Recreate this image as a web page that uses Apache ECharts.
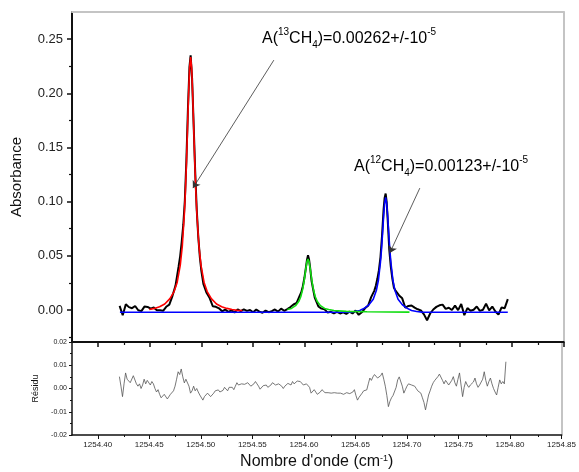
<!DOCTYPE html>
<html>
<head>
<meta charset="utf-8">
<script src="https://cdn.jsdelivr.net/npm/echarts@6/dist/echarts.min.js"></script>
<style>
  html, body { margin: 0; padding: 0; background: #fff; }
  #chart { width: 579px; height: 472px; }
</style>
</head>
<body>
<div id="chart"></div>
<script>
// axes
const xMin = 1254.375, xMax = 1254.85;
const xMajor = [1254.40, 1254.45, 1254.50, 1254.55, 1254.60, 1254.65, 1254.70, 1254.75, 1254.80, 1254.85];
const xMinor = [1254.425, 1254.475, 1254.525, 1254.575, 1254.625, 1254.675, 1254.725, 1254.775, 1254.825];
const absMajor = [0, 0.05, 0.10, 0.15, 0.20, 0.25];
const absMinor = [-0.025, 0.025, 0.075, 0.125, 0.175, 0.225];
const resMajor = [-0.02, -0.01, 0, 0.01, 0.02];
const resMinor = [-0.015, -0.005, 0.005, 0.015];

// spectre mesuré (nombre d'onde, absorbance)
const spectre = [
  [1254.421, 0.0038], [1254.424, -0.0048], [1254.427, 0.0054], [1254.430, 0.0027], [1254.433, 0.0017],
  [1254.436, 0.0037], [1254.439, -0.0002], [1254.442, -0.0010], [1254.445, 0.0032], [1254.448, 0.0029],
  [1254.451, 0.0013], [1254.454, 0.0024], [1254.457, -0.0003], [1254.460, -0.0003], [1254.463, -0.0007],
  [1254.466, 0.0030], [1254.469, 0.0050], [1254.472, 0.0129], [1254.475, 0.0225], [1254.478, 0.0402],
  [1254.4795, 0.0498], [1254.481, 0.0630], [1254.4825, 0.0785], [1254.484, 0.1008], [1254.4855, 0.1379],
  [1254.487, 0.1855], [1254.4885, 0.2247], [1254.4896, 0.2350], [1254.491, 0.2140], [1254.4925, 0.1714],
  [1254.494, 0.1278], [1254.4955, 0.0925], [1254.497, 0.0674], [1254.4985, 0.0489], [1254.500, 0.0360],
  [1254.502, 0.0238], [1254.505, 0.0159], [1254.508, 0.0110], [1254.511, 0.0035], [1254.514, 0.0030],
  [1254.517, 0.0016], [1254.520, -0.0012], [1254.523, 0.0005], [1254.526, -0.0017], [1254.529, -0.0004],
  [1254.532, -0.0022], [1254.535, 0.0006], [1254.538, -0.0011], [1254.541, 0.0006], [1254.544, -0.0008],
  [1254.547, 0.0000], [1254.550, -0.0020], [1254.553, 0.0005], [1254.556, -0.0015], [1254.559, -0.0025],
  [1254.562, -0.0005], [1254.565, -0.0020], [1254.568, -0.0010], [1254.571, 0.0005], [1254.574, -0.0015],
  [1254.577, 0.0013], [1254.580, -0.0007], [1254.583, 0.0009], [1254.586, 0.0027], [1254.589, 0.0051],
  [1254.592, 0.0065], [1254.595, 0.0133], [1254.5965, 0.0164], [1254.598, 0.0219], [1254.5995, 0.0295],
  [1254.601, 0.0394], [1254.602, 0.0462], [1254.603, 0.0505], [1254.604, 0.0467], [1254.605, 0.0394],
  [1254.6065, 0.0265], [1254.608, 0.0189], [1254.6095, 0.0114], [1254.613, 0.0033], [1254.616, 0.0013],
  [1254.619, 0.0006], [1254.622, -0.0024], [1254.625, -0.0016], [1254.628, -0.0031], [1254.631, -0.0016],
  [1254.634, -0.0032], [1254.637, -0.0022], [1254.640, -0.0036], [1254.643, -0.0015], [1254.646, -0.0032],
  [1254.649, -0.0005], [1254.652, -0.0044], [1254.655, -0.0021], [1254.658, 0.0016], [1254.661, 0.0039],
  [1254.664, 0.0119], [1254.667, 0.0177], [1254.6685, 0.0224], [1254.670, 0.0288], [1254.6715, 0.0368],
  [1254.673, 0.0489], [1254.6745, 0.0685], [1254.676, 0.0927], [1254.677, 0.1035], [1254.678, 0.1075],
  [1254.679, 0.0995], [1254.680, 0.0830], [1254.6815, 0.0557], [1254.683, 0.0399], [1254.6845, 0.0288],
  [1254.686, 0.0205], [1254.6875, 0.0179], [1254.689, 0.0164], [1254.691, 0.0135], [1254.694, 0.0108],
  [1254.697, 0.0021], [1254.700, 0.0038], [1254.703, 0.0042], [1254.706, 0.0022], [1254.709, 0.0007],
  [1254.712, -0.0003], [1254.715, -0.0040], [1254.718, -0.0094], [1254.721, -0.0032], [1254.724, 0.0005],
  [1254.727, 0.0029], [1254.730, 0.0044], [1254.733, 0.0050], [1254.736, 0.0011], [1254.739, 0.0021],
  [1254.742, 0.0000], [1254.745, 0.0041], [1254.748, -0.0001], [1254.751, 0.0056], [1254.754, -0.0047],
  [1254.757, 0.0018], [1254.760, -0.0007], [1254.763, 0.0003], [1254.766, 0.0033], [1254.769, -0.0008],
  [1254.772, 0.0002], [1254.775, 0.0059], [1254.778, -0.0003], [1254.781, 0.0032], [1254.784, -0.0013],
  [1254.787, -0.0041], [1254.790, 0.0024], [1254.793, 0.0017], [1254.796, 0.0100]
];

// ajustement 13CH4 (rouge)
const fit13 = [
  [1254.4496, 0.0005], [1254.4546, 0.0015], [1254.4596, 0.0030], [1254.4646, 0.0055], [1254.4696, 0.0105],
  [1254.4736, 0.0170], [1254.4766, 0.0255], [1254.4796, 0.0415], [1254.4816, 0.0595], [1254.4836, 0.0895],
  [1254.4846, 0.1105], [1254.4856, 0.1365], [1254.4866, 0.1675], [1254.4876, 0.1985], [1254.4886, 0.2235],
  [1254.4896, 0.2335], [1254.4906, 0.2235], [1254.4916, 0.1985], [1254.4926, 0.1675], [1254.4936, 0.1365],
  [1254.4946, 0.1105], [1254.4956, 0.0895], [1254.4976, 0.0595], [1254.4996, 0.0415], [1254.5026, 0.0255],
  [1254.5056, 0.0170], [1254.5096, 0.0105], [1254.5146, 0.0055], [1254.5196, 0.0030], [1254.5246, 0.0015],
  [1254.5296, 0.0005], [1254.5346, -0.0003], [1254.5396, -0.0005]
];

// raie intermédiaire (vert)
const fitMid = [
  [1254.583, 0.0005], [1254.587, 0.0015], [1254.591, 0.0040], [1254.594, 0.0078], [1254.596, 0.0123],
  [1254.598, 0.0199], [1254.599, 0.0254], [1254.600, 0.0319], [1254.601, 0.0389], [1254.602, 0.0447],
  [1254.603, 0.0470], [1254.604, 0.0447], [1254.605, 0.0389], [1254.606, 0.0319], [1254.607, 0.0254],
  [1254.608, 0.0199], [1254.610, 0.0123], [1254.612, 0.0078], [1254.615, 0.0040], [1254.619, 0.0015],
  [1254.623, 0.0005], [1254.628, -0.0005], [1254.640, -0.0012], [1254.660, -0.0016], [1254.680, -0.0018],
  [1254.701, -0.0019]
];

// ajustement 12CH4 + ligne de base (bleu)
const fit12 = [
  [1254.4213, -0.0020], [1254.640, -0.0020], [1254.643, -0.0019], [1254.648, -0.0014], [1254.653, -0.0005],
  [1254.658, 0.0020], [1254.662, 0.0050], [1254.666, 0.0100], [1254.669, 0.0180], [1254.671, 0.0275],
  [1254.673, 0.0445], [1254.674, 0.0560], [1254.675, 0.0705], [1254.676, 0.0860], [1254.677, 0.0985],
  [1254.678, 0.1040], [1254.679, 0.0985], [1254.680, 0.0860], [1254.681, 0.0705], [1254.682, 0.0560],
  [1254.683, 0.0445], [1254.685, 0.0275], [1254.687, 0.0180], [1254.690, 0.0100], [1254.694, 0.0050],
  [1254.698, 0.0020], [1254.703, -0.0005], [1254.708, -0.0014], [1254.713, -0.0019], [1254.796, -0.0020]
];

// résidu
const residu = [
  [1254.421, 0.0051], [1254.4225, 0.0010], [1254.424, -0.0035], [1254.4255, 0.0020], [1254.427, 0.0067],
  [1254.4285, 0.0040], [1254.430, 0.0040], [1254.4315, 0.0025], [1254.433, 0.0030], [1254.4345, 0.0055],
  [1254.436, 0.0050], [1254.4375, 0.0020], [1254.439, 0.0010], [1254.4405, 0.0020], [1254.442, 0.0000],
  [1254.4435, 0.0015], [1254.445, 0.0040], [1254.4465, 0.0020], [1254.448, 0.0035], [1254.4495, 0.0030],
  [1254.451, 0.0015], [1254.4525, 0.0030], [1254.454, 0.0020], [1254.4555, 0.0000], [1254.457, -0.0015],
  [1254.4585, -0.0005], [1254.460, -0.0025], [1254.4615, -0.0040], [1254.463, -0.0045], [1254.4645, -0.0025],
  [1254.466, -0.0030], [1254.4675, -0.0045], [1254.469, -0.0040], [1254.4705, -0.0025], [1254.472, -0.0020],
  [1254.4735, -0.0010], [1254.475, 0.0010], [1254.4765, 0.0040], [1254.478, 0.0072], [1254.4795, 0.0060],
  [1254.481, 0.0084], [1254.4825, 0.0050], [1254.484, 0.0024], [1254.4855, 0.0040], [1254.487, 0.0045],
  [1254.4885, 0.0010], [1254.490, -0.0020], [1254.4915, -0.0010], [1254.493, 0.0010], [1254.4945, -0.0010],
  [1254.496, 0.0000], [1254.4975, -0.0015], [1254.499, -0.0028], [1254.5005, -0.0035], [1254.502, -0.0050],
  [1254.5035, -0.0035], [1254.505, -0.0030], [1254.5065, -0.0020], [1254.508, -0.0020], [1254.5095, -0.0035],
  [1254.511, -0.0035], [1254.5125, -0.0020], [1254.514, -0.0010], [1254.5155, -0.0018], [1254.517, -0.0006],
  [1254.5185, -0.0015], [1254.520, -0.0020], [1254.5215, -0.0008], [1254.523, 0.0005], [1254.5245, 0.0000],
  [1254.526, -0.0010], [1254.5275, 0.0005], [1254.529, 0.0010], [1254.5305, 0.0005], [1254.532, -0.0005],
  [1254.5335, 0.0010], [1254.535, 0.0025], [1254.5365, 0.0015], [1254.538, 0.0010], [1254.5395, 0.0020],
  [1254.541, 0.0028], [1254.5425, 0.0018], [1254.544, 0.0015], [1254.5455, 0.0025], [1254.547, 0.0025],
  [1254.5485, 0.0010], [1254.550, 0.0005], [1254.5515, 0.0020], [1254.553, 0.0030], [1254.5545, 0.0020],
  [1254.556, 0.0010], [1254.5575, -0.0003], [1254.559, 0.0000], [1254.5605, 0.0012], [1254.562, 0.0020],
  [1254.5635, 0.0015], [1254.565, 0.0005], [1254.5665, 0.0008], [1254.568, 0.0015], [1254.5695, 0.0025],
  [1254.571, 0.0030], [1254.5725, 0.0015], [1254.574, 0.0010], [1254.5755, 0.0020], [1254.577, 0.0024],
  [1254.5785, 0.0010], [1254.580, 0.0000], [1254.5815, 0.0010], [1254.583, 0.0010], [1254.5845, 0.0022],
  [1254.586, 0.0020], [1254.5875, 0.0015], [1254.589, 0.0030], [1254.5905, 0.0020], [1254.592, 0.0020],
  [1254.5935, 0.0032], [1254.595, 0.0040], [1254.5965, 0.0030], [1254.598, 0.0025], [1254.5995, 0.0015],
  [1254.601, 0.0010], [1254.6025, 0.0020], [1254.604, 0.0025], [1254.6055, 0.0005], [1254.607, -0.0020],
  [1254.6085, -0.0015], [1254.610, -0.0005], [1254.6115, -0.0015], [1254.613, -0.0025], [1254.6145, -0.0018],
  [1254.616, -0.0015], [1254.6175, -0.0005], [1254.619, -0.0005], [1254.6205, -0.0018], [1254.622, -0.0025],
  [1254.6235, -0.0018], [1254.625, -0.0010], [1254.6265, -0.0020], [1254.628, -0.0028], [1254.6295, -0.0018],
  [1254.631, -0.0010], [1254.6325, -0.0020], [1254.634, -0.0025], [1254.6355, -0.0020], [1254.637, -0.0015],
  [1254.6385, -0.0025], [1254.640, -0.0030], [1254.6415, -0.0018], [1254.643, -0.0010], [1254.6445, -0.0022],
  [1254.646, -0.0028], [1254.6475, -0.0015], [1254.649, -0.0005], [1254.6505, -0.0030], [1254.652, -0.0050],
  [1254.6535, -0.0038], [1254.655, -0.0035], [1254.6565, -0.0020], [1254.658, -0.0010], [1254.6595, -0.0015],
  [1254.661, -0.0006], [1254.6625, 0.0020], [1254.664, 0.0045], [1254.6655, 0.0035], [1254.667, 0.0050],
  [1254.6685, 0.0060], [1254.670, 0.0058], [1254.6715, 0.0045], [1254.673, 0.0040], [1254.6745, 0.0055],
  [1254.676, 0.0067], [1254.6775, 0.0040], [1254.679, 0.0010], [1254.6805, -0.0030], [1254.682, -0.0078],
  [1254.6835, -0.0055], [1254.685, -0.0040], [1254.6865, -0.0030], [1254.688, -0.0025], [1254.6895, 0.0005],
  [1254.691, 0.0037], [1254.6925, 0.0050], [1254.694, 0.0045], [1254.6955, 0.0010], [1254.697, -0.0020],
  [1254.6985, -0.0005], [1254.700, 0.0010], [1254.7015, 0.0020], [1254.703, 0.0024], [1254.7045, 0.0015],
  [1254.706, 0.0010], [1254.7075, 0.0010], [1254.709, 0.0000], [1254.7105, -0.0010], [1254.712, -0.0006],
  [1254.7135, -0.0020], [1254.715, -0.0040], [1254.7165, -0.0060], [1254.718, -0.0092], [1254.7195, -0.0060],
  [1254.721, -0.0028], [1254.7225, -0.0010], [1254.724, 0.0010], [1254.7255, 0.0025], [1254.727, 0.0035],
  [1254.7285, 0.0040], [1254.730, 0.0051], [1254.7315, 0.0062], [1254.733, 0.0058], [1254.7345, 0.0035],
  [1254.736, 0.0020], [1254.7375, 0.0035], [1254.739, 0.0030], [1254.7405, 0.0015], [1254.742, 0.0010],
  [1254.7435, 0.0035], [1254.745, 0.0051], [1254.7465, 0.0025], [1254.748, 0.0010], [1254.7495, 0.0040],
  [1254.751, 0.0067], [1254.7525, 0.0015], [1254.754, -0.0035], [1254.7555, 0.0005], [1254.757, 0.0030],
  [1254.7585, 0.0015], [1254.760, 0.0005], [1254.7615, 0.0015], [1254.763, 0.0015], [1254.7645, 0.0028],
  [1254.766, 0.0045], [1254.7675, 0.0020], [1254.769, 0.0005], [1254.7705, 0.0015], [1254.772, 0.0015],
  [1254.7735, 0.0040], [1254.775, 0.0072], [1254.7765, 0.0035], [1254.778, 0.0010], [1254.7795, 0.0030],
  [1254.781, 0.0045], [1254.7825, 0.0020], [1254.784, 0.0000], [1254.7855, -0.0015], [1254.787, -0.0028],
  [1254.7885, 0.0005], [1254.790, 0.0037], [1254.7915, 0.0020], [1254.793, 0.0030], [1254.7945, 0.0020],
  [1254.796, 0.0115]
];

// flèches des annotations : [départ, pointe]
const fleches = [
  [[1254.570, 0.2306], [1254.4918, 0.1125]],
  [[1254.711, 0.1125], [1254.682, 0.0526]]
];

const font = 'Liberation Sans, Arial, sans-serif';
const gray = '#c4c4c4';
const gridTop = { left: 72, top: 12, width: 491.7, height: 330 };
const gridBottom = { left: 72, top: 342, width: 491.7, height: 93 };
const noLabel = { show: false };
const noSplit = { show: false };
const richSup = {
  sup: { fontSize: 10, fontFamily: font, color: '#111', verticalAlign: 'top', lineHeight: 10 },
  sub: { fontSize: 10, fontFamily: font, color: '#111', verticalAlign: 'bottom', lineHeight: 10 },
  a: { fontSize: 16, fontFamily: font, color: '#111', lineHeight: 23 }
};

const chart = echarts.init(document.getElementById('chart'));
const option = {
  animation: false,
  backgroundColor: '#fff',
  grid: [gridTop, gridBottom, Object.assign({}, gridTop), Object.assign({}, gridBottom)],
  xAxis: [
    { gridIndex: 0, type: 'value', position: 'bottom', min: xMin, max: xMax,
      axisLine: { onZero: false, lineStyle: { color: '#111', width: 2 } },
      axisTick: { customValues: xMajor, length: 5, lineStyle: { color: '#111', width: 1.5 } },
      axisLabel: noLabel, splitLine: noSplit },
    { gridIndex: 0, type: 'value', position: 'top', min: xMin, max: xMax,
      axisLine: { onZero: false, lineStyle: { color: gray, width: 2 } },
      axisTick: { show: false }, axisLabel: noLabel, splitLine: noSplit },
    { gridIndex: 2, type: 'value', position: 'bottom', min: xMin, max: xMax,
      axisLine: { show: false, onZero: false },
      axisTick: { customValues: xMinor, length: 3, lineStyle: { color: '#111', width: 1.2 } },
      axisLabel: noLabel, splitLine: noSplit },
    { gridIndex: 1, type: 'value', position: 'bottom', min: xMin, max: xMax,
      axisLine: { onZero: false, lineStyle: { color: '#111', width: 1.5 } },
      axisTick: { customValues: xMajor, length: 4, lineStyle: { color: '#111', width: 1 } },
      axisLabel: { customValues: xMajor, formatter: v => v.toFixed(2), fontSize: 8,
        fontFamily: font, color: '#222', margin: 6 },
      splitLine: noSplit,
      name: "Nombre d'onde (cm{sup|-1})", nameLocation: 'middle', nameGap: 19,
      nameTextStyle: { fontSize: 16, fontFamily: font, color: '#111',
        rich: { sup: { fontSize: 9, fontFamily: font, color: '#111', verticalAlign: 'top', lineHeight: 10 } } } },
    { gridIndex: 3, type: 'value', position: 'bottom', min: xMin, max: xMax,
      axisLine: { show: false, onZero: false },
      axisTick: { customValues: xMinor, length: 2, lineStyle: { color: '#111', width: 1 } },
      axisLabel: noLabel, splitLine: noSplit }
  ],
  yAxis: [
    { gridIndex: 0, type: 'value', position: 'left', min: -0.0295, max: 0.275,
      axisLine: { show: true, onZero: false, lineStyle: { color: '#111', width: 2 } },
      axisTick: { show: true, customValues: absMajor, length: 5, lineStyle: { color: '#111', width: 1.5 } },
      axisLabel: { customValues: absMajor, formatter: v => v.toFixed(2), fontSize: 13,
        fontFamily: font, color: '#222', margin: 9 },
      splitLine: noSplit,
      name: 'Absorbance', nameLocation: 'middle', nameGap: 48,
      nameTextStyle: { fontSize: 15, fontFamily: font, color: '#111' } },
    { gridIndex: 0, type: 'value', position: 'right', min: -0.0295, max: 0.275,
      axisLine: { show: true, onZero: false, lineStyle: { color: gray, width: 2 } },
      axisTick: { show: false }, axisLabel: noLabel, splitLine: noSplit },
    { gridIndex: 2, type: 'value', position: 'left', min: -0.0295, max: 0.275,
      axisLine: { show: false, onZero: false },
      axisTick: { show: true, customValues: absMinor, length: 3, lineStyle: { color: '#111', width: 1.2 } },
      axisLabel: noLabel, splitLine: noSplit },
    { gridIndex: 1, type: 'value', position: 'left', min: -0.02, max: 0.02,
      axisLine: { show: true, onZero: false, lineStyle: { color: '#111', width: 1.5 } },
      axisTick: { show: true, customValues: resMajor, length: 3, lineStyle: { color: '#111', width: 1 } },
      axisLabel: { customValues: resMajor, formatter: v => v.toFixed(2), fontSize: 7,
        fontFamily: font, color: '#222', margin: 5 },
      splitLine: noSplit,
      name: 'Résidu', nameLocation: 'middle', nameGap: 28,
      nameTextStyle: { fontSize: 9, fontFamily: font, color: '#111' } },
    { gridIndex: 1, type: 'value', position: 'right', min: -0.02, max: 0.02,
      axisLine: { show: true, onZero: false, lineStyle: { color: gray, width: 2 } },
      axisTick: { show: false }, axisLabel: noLabel, splitLine: noSplit },
    { gridIndex: 3, type: 'value', position: 'left', min: -0.02, max: 0.02,
      axisLine: { show: false, onZero: false },
      axisTick: { show: true, customValues: resMinor, length: 2, lineStyle: { color: '#111', width: 1 } },
      axisLabel: noLabel, splitLine: noSplit }
  ],
  series: [
    { name: 'mesure', type: 'line', xAxisIndex: 0, yAxisIndex: 0, data: spectre,
      showSymbol: false, lineStyle: { color: '#000', width: 2 }, itemStyle: { color: '#000' },
      markLine: {
        silent: true, symbol: ['none', 'arrow'], symbolSize: 7,
        label: { show: false },
        lineStyle: { color: '#333', width: 0.8, type: 'solid' },
        data: fleches.map(([a, b]) => [{ coord: a }, { coord: b }])
      } },
    { name: '12CH4', type: 'line', xAxisIndex: 0, yAxisIndex: 0, data: fit12,
      showSymbol: false, lineStyle: { color: '#0000ff', width: 1.6 }, itemStyle: { color: '#0000ff' } },
    { name: 'raie', type: 'line', xAxisIndex: 0, yAxisIndex: 0, data: fitMid,
      showSymbol: false, lineStyle: { color: '#11dd11', width: 1.6 }, itemStyle: { color: '#11dd11' } },
    { name: '13CH4', type: 'line', xAxisIndex: 0, yAxisIndex: 0, data: fit13,
      showSymbol: false, lineStyle: { color: '#ff0000', width: 1.6 }, itemStyle: { color: '#ff0000' } },
    { name: 'residu', type: 'line', xAxisIndex: 3, yAxisIndex: 3, data: residu,
      showSymbol: false, lineStyle: { color: '#555', width: 0.8 }, itemStyle: { color: '#555' } }
  ],
  graphic: [
    { type: 'text', left: 262, top: 27, z: 10,
      style: { text: '{a|A(}{sup|13}{a|CH}{sub|4}{a|)=0.00262+/-10}{sup|-5}', rich: richSup } },
    { type: 'text', left: 354, top: 155, z: 10,
      style: { text: '{a|A(}{sup|12}{a|CH}{sub|4}{a|)=0.00123+/-10}{sup|-5}', rich: richSup } }
  ]
};

chart.setOption(option);
</script>
</body>
</html>
